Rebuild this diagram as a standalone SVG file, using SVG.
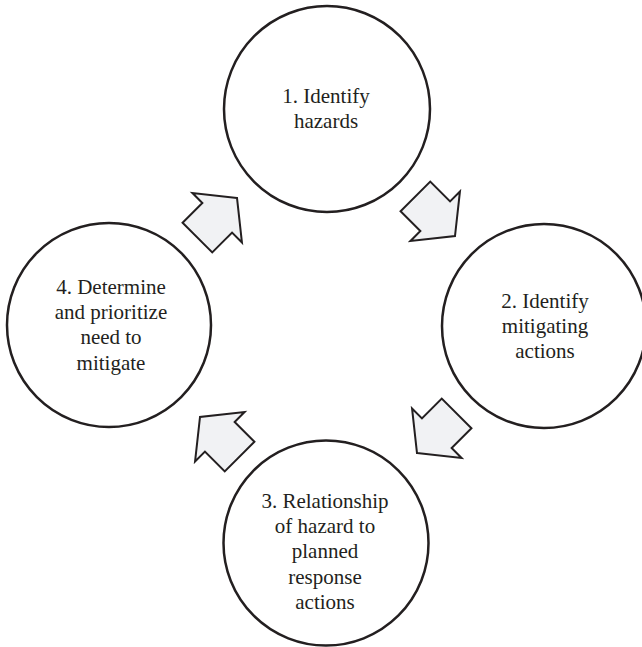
<svg xmlns="http://www.w3.org/2000/svg" width="642" height="647" viewBox="0 0 642 647">
<defs>
<style>
.node circle{fill:#fff;stroke:#231f20;stroke-width:2.5}
.node text{font-family:"Liberation Serif","DejaVu Serif",serif;font-size:21px;fill:#231f20;text-anchor:middle}
.arrow{fill:#f1f2f4;stroke:#231f20;stroke-width:2;stroke-linejoin:miter}
</style>
<polygon id="blk" class="arrow" points="0,0 -28,-35 -28,-21 -56,-21 -56,21 -28,21 -28,35"/>
</defs>
<rect width="642" height="647" fill="#fff"/>
<g id="n1" class="node">
<circle cx="327" cy="109" r="103"/>
<text x="326" y="103">1. Identify</text>
<text x="326" y="128">hazards</text>
</g>
<g id="n2" class="node">
<circle cx="544" cy="326" r="102"/>
<text x="545" y="308">2. Identify</text>
<text x="545" y="333">mitigating</text>
<text x="545" y="358">actions</text>
</g>
<g id="n3" class="node">
<circle cx="326" cy="543" r="102.5"/>
<text x="325" y="508">3. Relationship</text>
<text x="325" y="533">of hazard to</text>
<text x="325" y="558">planned</text>
<text x="325" y="584">response</text>
<text x="325" y="609">actions</text>
</g>
<g id="n4" class="node">
<circle cx="109" cy="325" r="102"/>
<text x="111" y="294">4. Determine</text>
<text x="111" y="319">and prioritize</text>
<text x="111" y="344">need to</text>
<text x="111" y="370">mitigate</text>
</g>
<g id="connectors">
<use href="#blk" transform="translate(455,236) rotate(45)"/>
<use href="#blk" transform="translate(417,453) rotate(135)"/>
<use href="#blk" transform="translate(200,417) rotate(-135)"/>
<use href="#blk" transform="translate(237,198) rotate(-45)"/>
</g>
</svg>
